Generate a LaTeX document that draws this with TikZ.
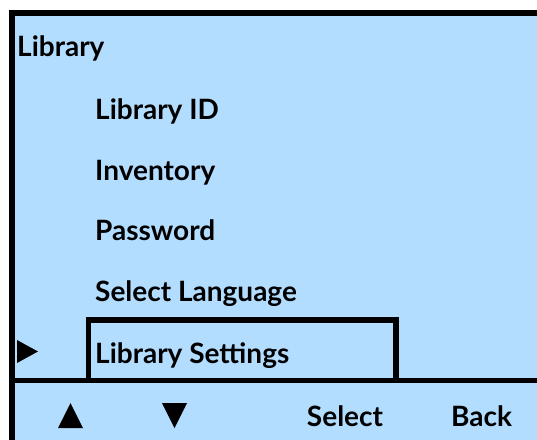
\documentclass[tikz,border=0pt]{standalone}
\usepackage{fontspec}
\setmainfont{Lato}
\usepackage{tikz}
\usetikzlibrary{positioning}

\definecolor{screenblue}{RGB}{179,221,255}

\begin{document}
\begin{tikzpicture}[
			x=1pt, y=-1pt,
			every node/.style={inner sep=0pt, font=\fontsize{28}{30}\selectfont\bfseries},
			item/.style={anchor=base west},
			softkey/.style={anchor=base},
			]
			\useasboundingbox (0,0) rectangle (537,439);
			\clip (0,0) rectangle (537,439);
			% screen
			\draw[line width=6pt, fill=screenblue] (12,13) rectangle (560,460);
			\draw[line width=5.5pt] (12,380.5) -- (560,380.5);
			% menu
			\node[item] (title) at (17,56) {Library};
			\node[item] (libid) at (95,119) {Library ID};
			\node[item] (inventory) at (95,180) {Inventory};
			\node[item] (password) at (95,240) {Password};
			\node[item] (language) at (95,301) {Select Language};
			\node[item] (settings) at (95,363) {Library Settings};
			\draw[line width=5.5pt] (88.5,380.5) -- (88.5,320) -- (396,320) -- (396,380.5);
			\fill (17,340) -- (38,351.5) -- (17,363) -- cycle;
			% soft keys
			\fill (58,428) -- (70.5,403) -- (83,428) -- cycle;
			\fill (162,403) -- (187,403) -- (174.5,428) -- cycle;
			\node[softkey] (select) at (345,426) {Select};
			\node[softkey] (back) at (481.5,426) {Back};
		\end{tikzpicture}
\end{document}
